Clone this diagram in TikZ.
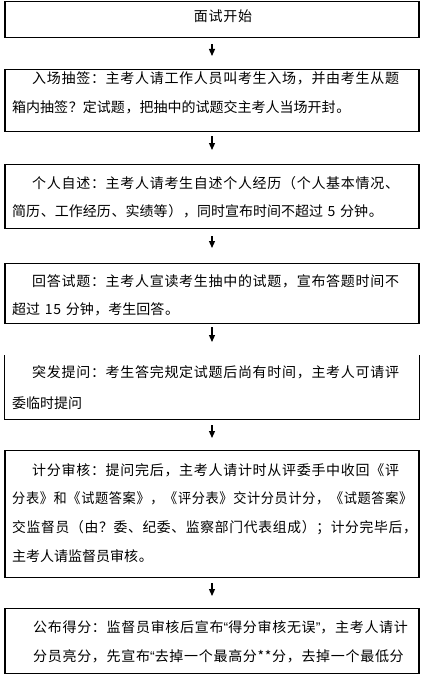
\documentclass[tikz,border=0pt]{standalone}
\usepackage{fontspec}
\usepackage{graphicx}
\setmainfont{Noto Sans CJK SC}[LetterSpace=5]
\newfontfamily\qf{Liberation Sans}
\usetikzlibrary{arrows.meta}
\XeTeXlinebreaklocale "zh"
\XeTeXlinebreakskip=0pt plus 2pt
\tikzset{
  boxline/.style={line width=1.2pt},
  box/.style={boxline, draw, minimum width=414pt, inner sep=0pt, anchor=north},
  openbox/.style={minimum width=414pt, inner sep=0pt, anchor=north},
  flowarrow/.style={line width=1.2pt, -{Triangle[width=6pt,length=7pt]}},
  txt/.style={anchor=base west, inner sep=0pt, align=left, text width=440pt},
}
\newcommand{\fs}[1]{\fontsize{14pt}{#1}\selectfont}
\newcommand{\fullline}[2]{\hbox to #1{#2}}
\begin{document}
\begin{tikzpicture}[x=1pt,y=-1pt]
\useasboundingbox (0,0) rectangle (427,674);
% boxes
\node[box, minimum height=36.4pt] (b1) at (212,0.6) {};
\node[box, minimum height=62pt] (b2) at (212,69) {};
\node[box, minimum height=64pt] (b3) at (212,164) {};
\node[box, minimum height=60pt] (b4) at (212,263) {};
\node[openbox, minimum height=64pt] (b5) at (212,355) {};
\draw[boxline] (b5.north west) -- (b5.south west) -- (b5.south east) -- (b5.north east);
\node[box, minimum height=127pt] (b6) at (212,450) {};
\node[box, minimum height=64.5pt] (b7) at (212,608) {};
% texts
\node[anchor=base, inner sep=0pt, font=\fs{29pt}] (t1) at (223,22) {面试开始};
\node[txt, font=\fs{29pt}] (t2) at (12,84) {\hspace*{20pt}\fullline{380pt}{入场抽签：主考人请工作人员叫考生入场，并由考生从题}\\箱内抽签？定试题，把抽中的试题交主考人当场开封。};
\node[txt, font=\fs{28pt}] (t3) at (12,188) {\hspace*{20pt}\fullline{378pt}{个人自述：主考人请考生自述个人经历（个人基本情况、}\\简历、工作经历、实绩等），同时宣布时间不超过 5 分钟。};
\node[txt, font=\fs{28pt}] (t4) at (12,286) {\hspace*{20pt}\fullline{380pt}{回答试题：主考人宣读考生抽中的试题，宣布答题时间不}\\超过 15 分钟，考生回答。};
\node[txt, font=\fs{31pt}] (t5) at (12,377) {\hspace*{20pt}\fullline{379pt}{突发提问：考生答完规定试题后尚有时间，主考人可请评}\\委临时提问};
\node[txt, font=\fs{28.7pt}] (t6) at (12,475) {\hspace*{20pt}\fullline{380pt}{计分审核：提问完后，主考人请计时从评委手中收回《评}\\\scalebox{0.94}[1]{分表》和《试题答案》，《评分表》交计分员计分，《试题答案》}\\\scalebox{0.985}[1]{交监督员（由？委、纪委、监察部门代表组成）；计分完毕后，}\\主考人请监督员审核。};
\node[txt, font=\fs{29pt}] (t7) at (12,632) {\hspace*{21pt}\fullline{379pt}{公布得分：监督员审核后宣布{\qf “}得分审核无误{\qf ”}，主考人请计}\\\hspace*{21pt}\fullline{378pt}{分员亮分，先宣布{\qf “}去掉一个最高分**分，去掉一个最低分}};
% connectors
\draw[flowarrow, shorten <=6pt, shorten >=13pt] (b1.south) -- (b2.north);
\draw[flowarrow, shorten <=4pt, shorten >=14pt] (b2.south) -- (b3.north);
\draw[flowarrow, shorten <=7pt, shorten >=15pt] (b3.south) -- (b4.north);
\draw[flowarrow, shorten <=3pt, shorten >=13pt] (b4.south) -- (b5.north);
\draw[flowarrow, shorten <=6pt, shorten >=12pt] (b5.south) -- (b6.north);
\draw[flowarrow, shorten <=5pt, shorten >=12pt] (b6.south) -- (b7.north);
\end{tikzpicture}
\end{document}
